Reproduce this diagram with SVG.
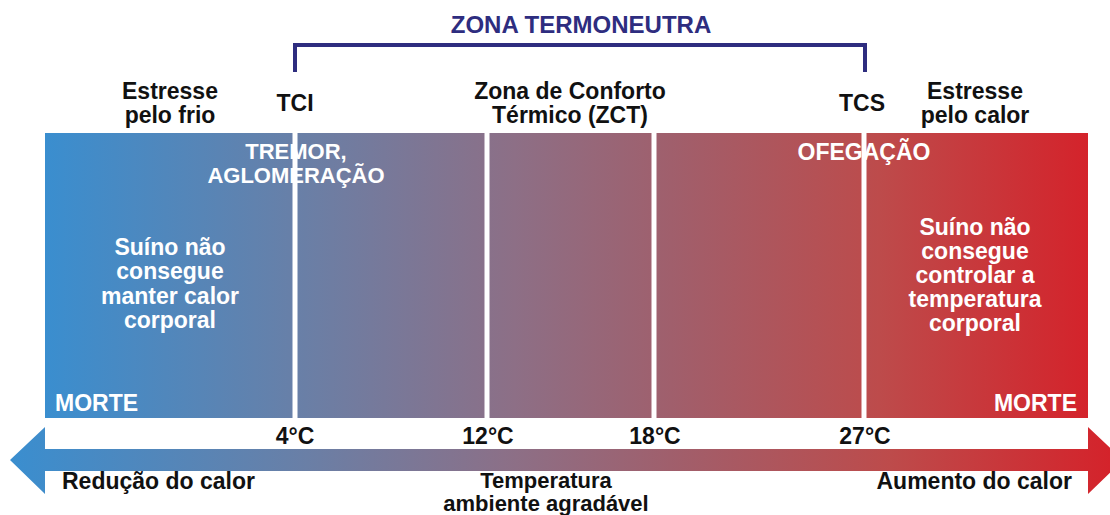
<svg xmlns="http://www.w3.org/2000/svg" width="1110" height="515" viewBox="0 0 1110 515">
<defs>
<linearGradient id="grad" gradientUnits="userSpaceOnUse" x1="45" y1="0" x2="1088" y2="0">
<stop offset="0" stop-color="#3a8ecf"/>
<stop offset="0.25" stop-color="#6a7fa6"/>
<stop offset="0.45" stop-color="#8d6f86"/>
<stop offset="0.6" stop-color="#a05f6c"/>
<stop offset="0.8" stop-color="#bd4b4b"/>
<stop offset="1" stop-color="#d4232b"/>
</linearGradient>
<linearGradient id="gradA" gradientUnits="userSpaceOnUse" x1="10" y1="0" x2="1110" y2="0">
<stop offset="0" stop-color="#3a8ecf"/>
<stop offset="0.27" stop-color="#6a7fa6"/>
<stop offset="0.46" stop-color="#8d6f86"/>
<stop offset="0.6" stop-color="#a05f6c"/>
<stop offset="0.8" stop-color="#bd4b4b"/>
<stop offset="1" stop-color="#d4232b"/>
</linearGradient>
<style>
text{font-family:"Liberation Sans",Arial,sans-serif;font-weight:bold;font-size:23px;}
.k{fill:#111;}
.w{fill:#fff;}
.t{fill:#2e2d7f;font-size:24px;}
.m{text-anchor:middle;}
.e{text-anchor:end;}
.s{font-size:22px;}
.div{stroke:#fff;stroke-width:5;}
</style>
</defs>
<rect width="1110" height="515" fill="#fff"/>

<g id="title">
<text class="t m" x="581" y="33">ZONA TERMONEUTRA</text>
<path d="M295,72 V45 H865 V72" fill="none" stroke="#2e2d7f" stroke-width="4"/>
</g>

<g id="top-labels">
<text class="k m" x="170" y="99">Estresse</text>
<text class="k m" x="170" y="123">pelo frio</text>
<text class="k m" x="295" y="111">TCI</text>
<text class="k m" x="570" y="99">Zona de Conforto</text>
<text class="k m" x="570" y="123">Térmico (ZCT)</text>
<text class="k m" x="862" y="111">TCS</text>
<text class="k m" x="975" y="99">Estresse</text>
<text class="k m" x="975" y="123">pelo calor</text>
</g>

<g id="band">
<rect x="45" y="133" width="1043" height="285" fill="url(#grad)"/>
<line class="div" x1="295" y1="133" x2="295" y2="418"/>
<line class="div" x1="487" y1="133" x2="487" y2="418"/>
<line class="div" x1="654" y1="133" x2="654" y2="418"/>
<line class="div" x1="864" y1="133" x2="864" y2="418"/>
</g>

<g id="band-labels">
<text class="w m s" x="296" y="159">TREMOR,</text>
<text class="w m s" x="296" y="183">AGLOMERAÇÃO</text>
<text class="w m" x="864" y="160">OFEGAÇÃO</text>
<text class="w m" x="170" y="255">Suíno não</text>
<text class="w m" x="170" y="279">consegue</text>
<text class="w m" x="170" y="304">manter calor</text>
<text class="w m" x="170" y="328">corporal</text>
<text class="w m" x="975" y="235">Suíno não</text>
<text class="w m" x="975" y="259">consegue</text>
<text class="w m" x="975" y="283">controlar a</text>
<text class="w m" x="975" y="307">temperatura</text>
<text class="w m" x="975" y="331">corporal</text>
<text class="w" x="55" y="411">MORTE</text>
<text class="w e" x="1077" y="411">MORTE</text>
</g>

<g id="arrow">
<polygon points="10,460 45,427 45,449 1088,449 1088,427 1123,460 1088,494 1088,471 45,471 45,494" fill="url(#gradA)"/>
</g>

<g id="bottom-labels">
<text class="k m" x="295" y="444">4°C</text>
<text class="k m" x="488" y="444">12°C</text>
<text class="k m" x="655" y="444">18°C</text>
<text class="k m" x="865" y="444">27°C</text>
<text class="k" x="62" y="489">Redução do calor</text>
<text class="k m s" x="546" y="488">Temperatura</text>
<text class="k m s" x="546" y="511">ambiente agradável</text>
<text class="k e" x="1072" y="489">Aumento do calor</text>
</g>
</svg>
